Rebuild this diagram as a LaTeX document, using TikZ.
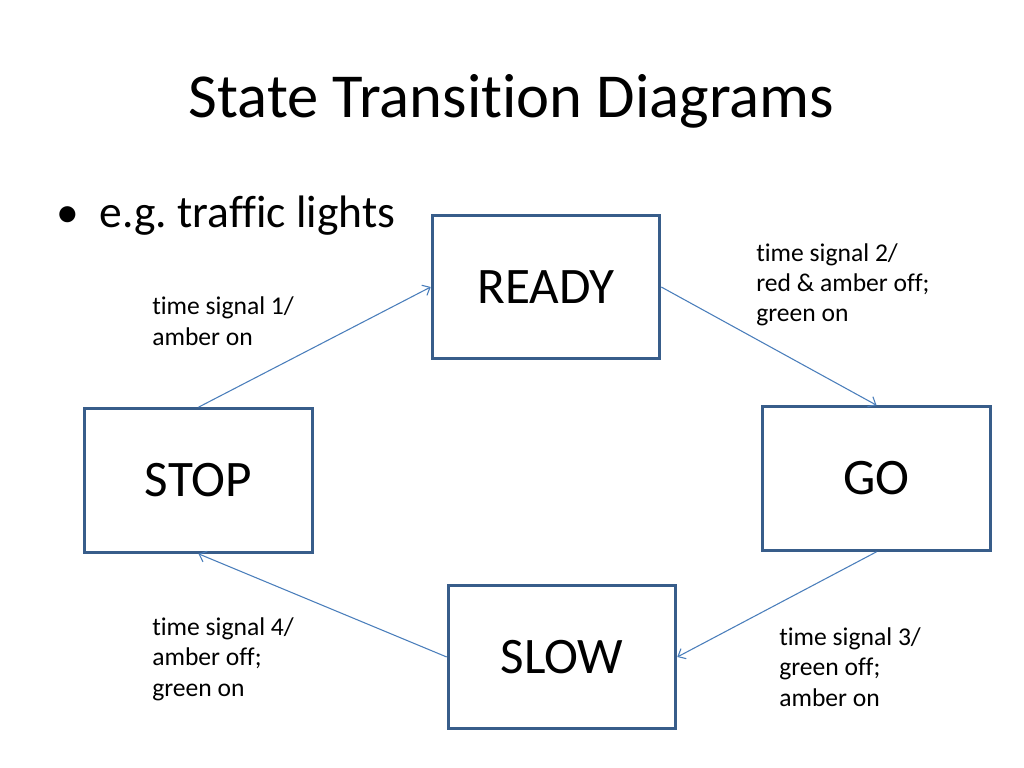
\documentclass[tikz,border=0pt]{standalone}
\usepackage{fontspec}
\setmainfont{Carlito}[Ligatures=NoCommon]
\usetikzlibrary{arrows.meta}
\definecolor{boxblue}{HTML}{385D8A}
\definecolor{lineblue}{HTML}{4A7EBB}
\frenchspacing
\begin{document}
\begin{tikzpicture}[x=0.703125pt,y=-0.703125pt,
	state/.style={draw=boxblue,line width=2.1pt,minimum width=160pt,minimum height=101pt,inner sep=0pt,font=\fontsize{36}{43}\selectfont},
	note/.style={anchor=base west,align=left,inner sep=0pt,font=\fontsize{18}{21.1}\selectfont},
	trans/.style={draw=lineblue,line width=0.75pt,-{Straight Barb[length=4.5pt,width=8pt]}}]
	\useasboundingbox (0,0) rectangle (1024,768);
	\node[anchor=base,inner sep=0pt,font=\fontsize{44}{53}\selectfont] (title) at (511.5,118) {State Transition Diagrams};
	\node[anchor=base west,inner sep=0pt,font=\fontsize{32}{38}\selectfont] (bullet) at (56,228) {•\hspace{14.5pt}e.g. traffic lights};
	\node[state] (ready) at (546,287) {READY};
	\node[state] (go) at (876.5,478.5) {GO};
	\node[state] (stop) at (198.5,480.5) {STOP};
	\node[state] (slow) at (562,657) {SLOW};
	\draw[trans] (stop.north) -- (ready.west);
	\draw[trans] (ready.east) -- (go.north);
	\draw[trans] (go.south) -- (slow.east);
	\draw[trans] (slow.west) -- (stop.south);
	% base anchor sits on the last line
	\node[note] (lbl1) at (152,345) {time signal 1/\\amber on};
	\node[note] (lbl2) at (756,322) {time signal 2/\\red \& amber off;\\green on};
	\node[note] (lbl3) at (779,706) {time signal 3/\\green off;\\amber on};
	\node[note] (lbl4) at (152,696) {time signal 4/\\amber off;\\green on};
\end{tikzpicture}
\end{document}
